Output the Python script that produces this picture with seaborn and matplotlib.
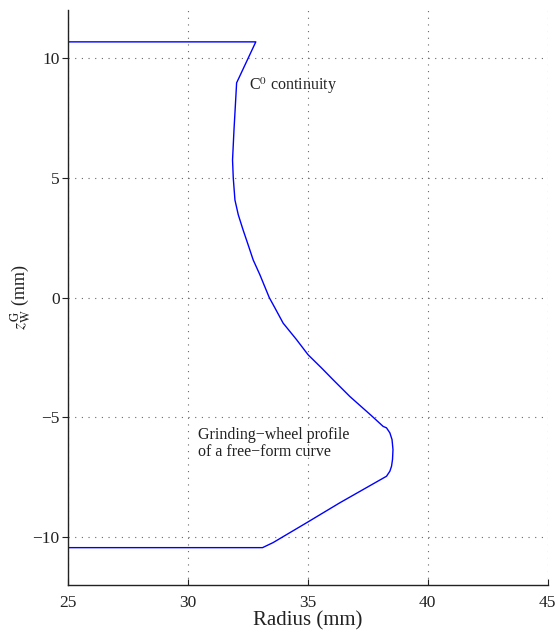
import matplotlib
matplotlib.use("Agg")
import matplotlib.pyplot as plt
import seaborn as sns
import pandas as pd

# profile of the grinding wheel (radius, z)
radio = [25.0, 32.83, 32.03, 31.99, 31.92, 31.86, 31.89, 31.96, 32.10, 32.30,
         32.51, 32.72, 33.0, 33.39, 33.63, 33.97, 34.53, 35.01, 35.57, 36.05,
         36.75, 37.65, 38.14, 38.28, 38.42, 38.51, 38.55, 38.53, 38.49, 38.42,
         38.28, 36.33, 34.95, 33.55, 33.11, 25.0]
z = [10.67, 10.67, 8.96, 8.24, 6.99, 5.74, 4.99, 4.07, 3.45, 2.82,
     2.20, 1.57, 0.95, 0.0, -0.44, -1.07, -1.76, -2.39, -2.94, -3.43,
     -4.13, -4.93, -5.38, -5.44, -5.65, -5.93, -6.35, -6.76, -7.04, -7.25,
     -7.46, -8.57, -9.40, -10.23, -10.44, -10.44]

xticks = [25, 30, 35, 40, 45]
yticks = [-10, -5, 0, 5, 10]

perfil = pd.DataFrame({"radio": radio, "z": z})

sns.set_style("ticks")
plt.rcParams['font.family'] = ['Liberation Serif', 'DejaVu Serif']
plt.rcParams['mathtext.fontset'] = 'stix'

fig = plt.figure(figsize=(5.58, 6.33), dpi=100)
ax = fig.add_axes([0.1219, 0.0758, 0.8596, 0.9084])

sns.lineplot(data=perfil, x="radio", y="z", sort=False, estimator=None,
             color="#0000ff", linewidth=1.0, ax=ax)

ax.set_xlim(25, 45)
ax.set_ylim(-12, 12)
ax.set_xticks(xticks)
ax.set_yticks(yticks)
ax.grid(True, linestyle=(0, (1, 5)), color="#666666", linewidth=0.8)
ax.tick_params(axis="x", direction="in", length=4, labelsize=12.5, pad=7, colors="#222222")
ax.tick_params(axis="y", direction="out", length=4, labelsize=12.5, pad=2, colors="#222222")
sns.despine(ax=ax)
for s in ["left", "bottom"]:
    ax.spines[s].set_color("#222222")
    ax.spines[s].set_linewidth(1.0)

ax.set_xlabel("Radius (mm)", fontsize=15, color="#222222", labelpad=0)
ax.set_ylabel(r"$z_{\mathrm{W}}^{\mathrm{G}}$ (mm)", fontsize=13, color="#222222")
ax.yaxis.set_label_coords(-0.072, 0.5)

ax.text(32.55, 8.85, r"C$^0$ continuity", fontsize=11.5, color="#222222", va="center", ha="left")
ax.text(30.4, -6.1, "Grinding\u2212wheel profile\nof a free\u2212form curve",
        fontsize=11.5, color="#222222", va="center", ha="left", linespacing=1.05)

fig.savefig("out.png", dpi=100)
